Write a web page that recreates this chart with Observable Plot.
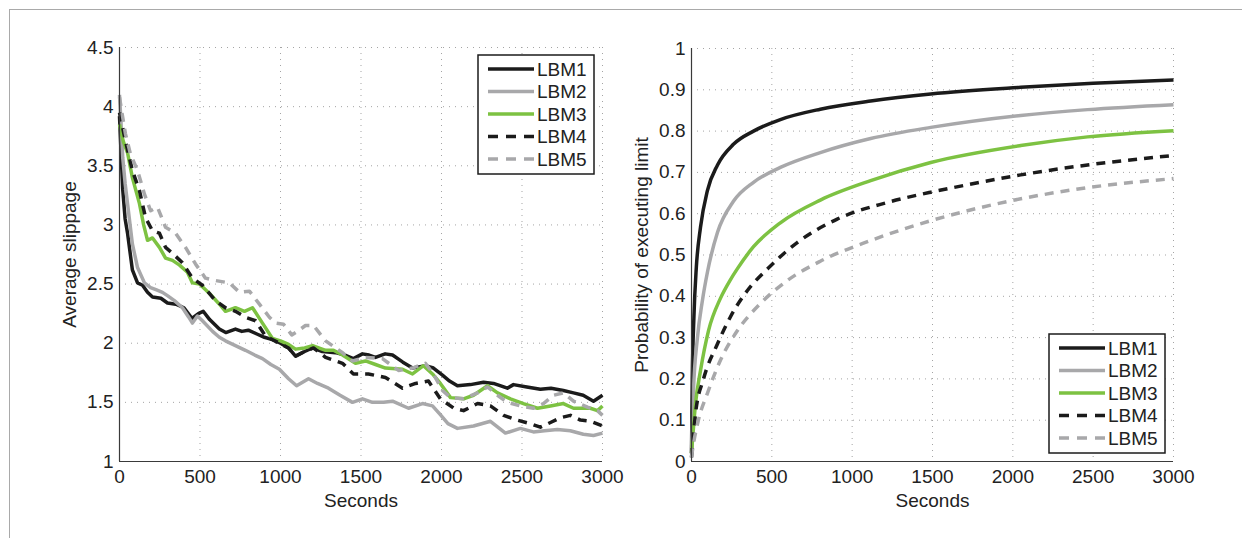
<!DOCTYPE html>
<html>
<head>
<meta charset="utf-8">
<script src="https://cdn.jsdelivr.net/npm/d3@7"></script>
<script src="https://cdn.jsdelivr.net/npm/@observablehq/plot@0.6"></script>
<style>
  html, body { margin: 0; padding: 0; background: #fff; }
  #wrap { position: relative; width: 1242px; height: 538px; overflow: hidden; font-family: "Liberation Sans", Arial, sans-serif; }
  #frame { position: absolute; left: 9px; top: 9px; right: -5px; bottom: -5px; border-top: 1.5px solid #a9a9a9; border-left: 1.5px solid #a9a9a9; }
  .panel { position: absolute; top: 0; }
  .legend { position: absolute; }
</style>
</head>
<body>
<div id="wrap"><div id="frame"></div></div>
<script>
// ---------------- data ----------------
const seriesNames = ["LBM1", "LBM2", "LBM3", "LBM4", "LBM5"];
const xTicks = [0, 500, 1000, 1500, 2000, 2500, 3000];
const slipTicks = [1, 1.5, 2, 2.5, 3, 3.5, 4, 4.5];
const probTicks = [0, 0.1, 0.2, 0.3, 0.4, 0.5, 0.6, 0.7, 0.8, 0.9, 1];

// Left panel: average slippage [seconds, value]
const slipLBM1 = [[0,3.92],[10,3.6],[20,3.3],[35,3.05],[50,2.93],[80,2.62],[112,2.51],[143,2.49],[174,2.43],[205,2.39],[257,2.38],[298,2.34],[350,2.33],[400,2.3],[450,2.21],[490,2.25],[520,2.27],[560,2.2],[620,2.12],[660,2.09],[720,2.12],[760,2.1],[800,2.11],[850,2.08],[900,2.05],[950,2.03],[1000,2.0],[1050,1.96],[1093,1.89],[1150,1.93],[1199,1.96],[1260,1.93],[1342,1.92],[1400,1.9],[1453,1.87],[1509,1.91],[1550,1.9],[1590,1.88],[1650,1.91],[1696,1.9],[1760,1.84],[1820,1.79],[1860,1.8],[1900,1.81],[1950,1.79],[2006,1.73],[2050,1.68],[2099,1.64],[2180,1.65],[2261,1.67],[2323,1.66],[2409,1.62],[2447,1.65],[2530,1.63],[2614,1.61],[2680,1.62],[2757,1.6],[2820,1.58],[2880,1.56],[2944,1.51],[3000,1.56]];
const slipLBM2 = [[0,4.1],[10,3.85],[20,3.57],[35,3.35],[50,3.18],[80,2.84],[112,2.64],[155,2.51],[193,2.47],[230,2.45],[267,2.43],[300,2.4],[341,2.36],[391,2.3],[430,2.22],[453,2.17],[484,2.23],[515,2.19],[578,2.1],[620,2.05],[658,2.02],[720,1.98],[782,1.94],[840,1.9],[888,1.87],[940,1.82],[993,1.78],[1050,1.7],[1100,1.64],[1174,1.7],[1230,1.66],[1298,1.62],[1370,1.56],[1447,1.5],[1509,1.53],[1571,1.5],[1640,1.5],[1696,1.51],[1795,1.45],[1882,1.49],[1944,1.47],[1990,1.4],[2040,1.32],[2099,1.28],[2199,1.3],[2304,1.34],[2397,1.24],[2490,1.28],[2571,1.25],[2640,1.26],[2720,1.27],[2800,1.26],[2881,1.23],[2944,1.22],[3000,1.24]];
const slipLBM3 = [[0,3.85],[10,3.78],[25,3.7],[50,3.61],[80,3.4],[124,3.18],[150,3.0],[174,2.87],[205,2.89],[248,2.81],[286,2.72],[329,2.7],[373,2.66],[422,2.6],[453,2.51],[497,2.5],[559,2.42],[621,2.33],[658,2.27],[720,2.3],[776,2.27],[826,2.3],[888,2.17],[950,2.04],[1000,2.02],[1050,1.99],[1093,1.95],[1150,1.96],[1199,1.98],[1280,1.94],[1329,1.94],[1385,1.9],[1466,1.83],[1528,1.85],[1590,1.82],[1652,1.79],[1758,1.78],[1820,1.74],[1888,1.81],[1944,1.74],[1993,1.66],[2056,1.54],[2137,1.53],[2199,1.56],[2286,1.64],[2348,1.58],[2428,1.53],[2509,1.49],[2596,1.45],[2677,1.47],[2757,1.49],[2820,1.45],[2925,1.45],[2969,1.43],[3000,1.47]];
const slipLBM4 = [[0,3.95],[15,3.85],[37,3.71],[80,3.46],[124,3.29],[162,3.06],[205,2.95],[248,2.93],[286,2.81],[329,2.76],[391,2.68],[453,2.55],[515,2.49],[596,2.36],[658,2.3],[720,2.27],[782,2.22],[845,2.19],[907,2.06],[993,2.0],[1050,1.96],[1093,1.89],[1150,1.93],[1205,1.96],[1280,1.88],[1385,1.83],[1453,1.74],[1546,1.74],[1652,1.71],[1758,1.62],[1839,1.66],[1919,1.68],[1993,1.53],[2077,1.45],[2137,1.43],[2224,1.49],[2304,1.47],[2386,1.39],[2471,1.35],[2552,1.32],[2614,1.29],[2677,1.33],[2739,1.37],[2801,1.39],[2863,1.35],[2925,1.34],[3000,1.3]];
const slipLBM5 = [[0,4.08],[15,3.95],[37,3.77],[68,3.6],[112,3.46],[155,3.26],[193,3.12],[236,3.15],[286,2.98],[348,2.93],[410,2.81],[472,2.67],[534,2.55],[596,2.53],[683,2.51],[745,2.43],[807,2.44],[869,2.33],[931,2.22],[969,2.17],[1019,2.16],[1070,2.07],[1105,2.1],[1155,2.15],[1205,2.15],[1280,2.02],[1385,1.92],[1447,1.85],[1528,1.88],[1633,1.87],[1733,1.77],[1820,1.79],[1900,1.83],[1950,1.74],[2006,1.6],[2056,1.54],[2137,1.53],[2224,1.58],[2286,1.63],[2348,1.56],[2409,1.5],[2490,1.47],[2571,1.45],[2633,1.49],[2696,1.56],[2757,1.58],[2820,1.51],[2907,1.46],[2969,1.43],[3000,1.39]];

// Right panel: probability of executing limit [seconds, value]
const probLBM1 = [[0,0.02],[5,0.2],[15,0.35],[30,0.47],[56,0.567],[99,0.656],[162,0.718],[261,0.768],[386,0.8],[553,0.828],[802,0.853],[1115,0.873],[1489,0.89],[2049,0.906],[2500,0.916],[3000,0.924]];
const probLBM2 = [[0,0.02],[12,0.17],[37,0.3],[68,0.39],[100,0.46],[162,0.555],[261,0.63],[386,0.676],[553,0.712],[802,0.748],[1115,0.782],[1489,0.809],[2049,0.838],[2465,0.852],[3000,0.864]];
const probLBM3 = [[0,0.02],[6,0.05],[25,0.14],[56,0.22],[106,0.317],[180,0.395],[242,0.44],[286,0.467],[386,0.52],[553,0.578],[802,0.633],[1115,0.68],[1489,0.724],[2049,0.765],[2465,0.786],[3000,0.801]];
const probLBM4 = [[0,0.01],[25,0.116],[75,0.2],[162,0.285],[242,0.35],[348,0.414],[472,0.466],[658,0.53],[907,0.587],[1217,0.627],[1489,0.652],[1627,0.663],[2049,0.694],[2465,0.718],[3000,0.741]];
const probLBM5 = [[0,0.01],[6,0.027],[43,0.1],[99,0.165],[180,0.245],[286,0.317],[428,0.382],[596,0.438],[802,0.485],[1115,0.535],[1489,0.583],[2049,0.636],[2465,0.663],[3000,0.685]];

// ---------------- styles ----------------
const seriesStyle = [
  {stroke: "#1b1b1b", dash: null},
  {stroke: "#a8a8aa", dash: null},
  {stroke: "#7dc242", dash: null},
  {stroke: "#1b1b1b", dash: "9,7"},
  {stroke: "#a8a8aa", dash: "9,7"}
];
const SW = 3.5;

function panel(series, yTicks, yLabel, curve, m) {
  return Plot.plot({
    width: 621, height: 538,
    marginLeft: m.left, marginRight: m.right, marginTop: m.top, marginBottom: 77,
    style: {fontFamily: '"Liberation Sans", Arial, sans-serif', fontSize: "19px", color: "#222", background: "transparent", overflow: "visible"},
    x: {domain: [0, 3000]},
    y: {domain: [yTicks[0], yTicks[yTicks.length - 1]]},
    marks: [
      Plot.gridX(xTicks, {stroke: "#9a9a9a", strokeOpacity: 0.9, strokeDasharray: "1,5"}),
      Plot.gridY(yTicks, {stroke: "#9a9a9a", strokeOpacity: 0.9, strokeDasharray: "1,5"}),
      Plot.axisX(xTicks, {tickSize: 0, tickPadding: 8, tickFormat: d => String(d), fontSize: 19, label: "Seconds", labelAnchor: "center", labelArrow: "none", labelOffset: 45}),
      Plot.axisY(yTicks, {tickSize: 0, tickPadding: 6, tickFormat: d => String(d), fontSize: 19, label: yLabel, labelAnchor: "center", labelArrow: "none", labelOffset: 57}),
      ...series.map((s, i) => Plot.line(s, {x: d => d[0], y: d => d[1], stroke: seriesStyle[i].stroke, strokeWidth: SW, strokeDasharray: seriesStyle[i].dash, curve, strokeLinejoin: "round", strokeLinecap: "butt"})),
      Plot.ruleX([0], {stroke: "#3a3a3a", strokeWidth: 1.2}),
      Plot.ruleY([yTicks[0]], {stroke: "#3a3a3a", strokeWidth: 1.2})
    ]
  });
}

const wrap = document.getElementById("wrap");

const left = panel([slipLBM1, slipLBM2, slipLBM3, slipLBM4, slipLBM5], slipTicks, "Average slippage", "linear", {left: 119, right: 19, top: 47});
left.classList.add("panel"); left.style.left = "0px";
wrap.appendChild(left);

const right = panel([probLBM1, probLBM2, probLBM3, probLBM4, probLBM5], probTicks, "Probability of executing limit", "monotone-x", {left: 70, right: 69, top: 48});
right.classList.add("panel"); right.style.left = "621px";
wrap.appendChild(right);

// ---------------- legends ----------------
function legend(x, y) {
  const w = 116, h = 119;
  const svg = d3.create("svg").attr("width", w + 4).attr("height", h + 4)
    .attr("class", "legend").style("left", (x - 2) + "px").style("top", (y - 2) + "px");
  svg.append("rect").attr("x", 2).attr("y", 2).attr("width", w).attr("height", h)
    .attr("fill", "#fff").attr("stroke", "#1b1b1b").attr("stroke-width", 1.5);
  seriesNames.forEach((name, i) => {
    const cy = 2 + 14 + i * 22.5;
    svg.append("line").attr("x1", 12).attr("x2", 58).attr("y1", cy).attr("y2", cy)
      .attr("stroke", seriesStyle[i].stroke).attr("stroke-width", SW)
      .attr("stroke-dasharray", seriesStyle[i].dash ? "10,8" : null);
    svg.append("text").attr("x", 61).attr("y", cy).attr("dy", "0.36em")
      .attr("font-size", "19px").attr("fill", "#222")
      .attr("font-family", '"Liberation Sans", Arial, sans-serif').text(name);
  });
  wrap.appendChild(svg.node());
}
legend(478, 55);
legend(1049, 334);
</script>
</body>
</html>
